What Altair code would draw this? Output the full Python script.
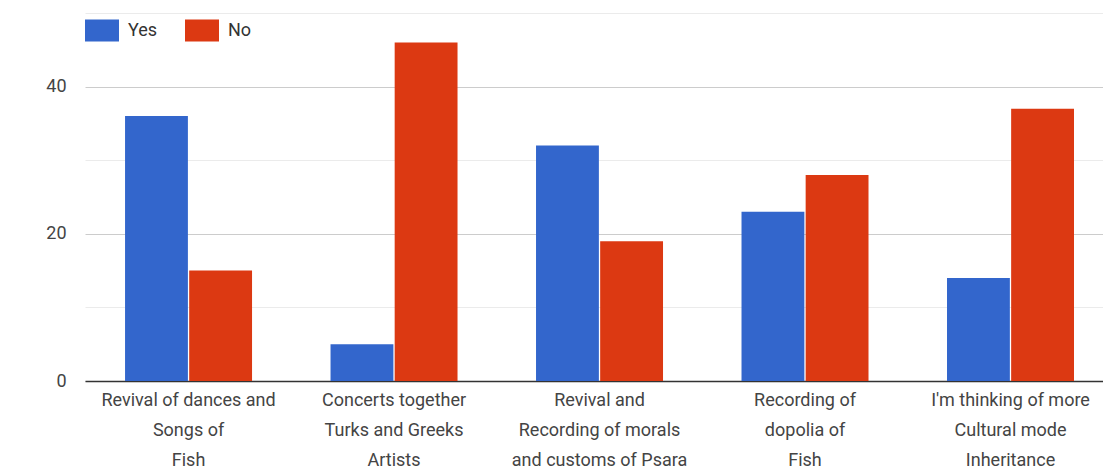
import altair as alt
import pandas as pd

# Survey topics (line breaks marked with "|"), and answer counts per topic
categories = [
    "Revival of dances and|Songs of|Fish",
    "Concerts together|Turks and Greeks|Artists",
    "Revival and|Recording of morals|and customs of Psara",
    "Recording of|dopolia of|Fish",
    "I'm thinking of more|Cultural mode|Inheritance",
]
yes_counts = [36, 5, 32, 23, 14]
no_counts = [15, 46, 19, 28, 37]

series = ["Yes", "No"]
series_colors = ["#3366cc", "#dc3912"]
y_ticks = [0, 10, 20, 30, 40, 50]

rows = []
for topic, y, n in zip(categories, yes_counts, no_counts):
    rows.append({"topic": topic, "answer": "Yes", "count": y})
    rows.append({"topic": topic, "answer": "No", "count": n})
df = pd.DataFrame(rows)

FONT = "Roboto"
FONT_SIZE = 18
# wide rectangular legend swatch (custom symbol path in the -1..1 box)
swatch = "M-1,-0.647L1,-0.647L1,0.647L-1,0.647Z"

chart = (
    alt.Chart(df)
    .mark_bar()
    .encode(
        x=alt.X(
            "topic:N",
            sort=categories,
            title=None,
            scale=alt.Scale(paddingInner=0.382, paddingOuter=0.168, align=0.58),
            axis=alt.Axis(
                labelAngle=0,
                labelExpr="split(datum.label, '|')",
                labelLineHeight=30,
                labelFontSize=FONT_SIZE,
                labelColor="#444444",
                labelPadding=10,
                labelLimit=0,
                labelOverlap=False,
                ticks=False,
                grid=False,
                domainColor="#333333",
                domainWidth=1.5,
            ),
        ),
        xOffset=alt.XOffset("answer:N", sort=series, scale=alt.Scale(paddingInner=0.02)),
        y=alt.Y(
            "count:Q",
            title=None,
            scale=alt.Scale(domain=[0, 50], nice=False),
            axis=alt.Axis(
                values=y_ticks,
                labelExpr="datum.value % 20 === 0 ? datum.label : ''",
                ticks=False,
                domain=False,
                labelPadding=19,
                labelFontSize=FONT_SIZE,
                labelColor="#444444",
                gridColor={
                    "condition": {"test": "datum.value % 20 === 0", "value": "#cccccc"},
                    "value": "#ebebeb",
                },
            ),
        ),
        color=alt.Color(
            "answer:N",
            sort=series,
            scale=alt.Scale(domain=series, range=series_colors),
            legend=alt.Legend(
                orient="none",
                legendX=0,
                legendY=0.5,
                direction="horizontal",
                title=None,
                symbolType=swatch,
                symbolSize=1156,
                symbolStrokeWidth=0,
                symbolOpacity=1,
                labelFontSize=FONT_SIZE,
                labelColor="#333333",
                labelOffset=9,
                columnPadding=27,
                padding=0,
            ),
        ),
    )
    .properties(
        width=1018,
        height=368,
        autosize=alt.AutoSizeParams(type="none"),
        padding={"left": 85, "top": 13, "right": 0, "bottom": 91},
    )
    .configure(font=FONT, background="white")
    .configure_view(stroke=None)
)

chart.save("out.html", embed_options={"renderer": "svg", "actions": False})
